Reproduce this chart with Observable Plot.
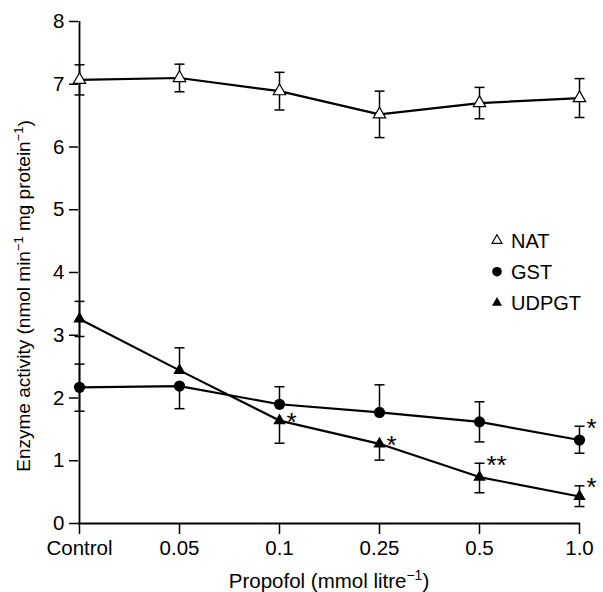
<!DOCTYPE html>
<html>
<head>
<meta charset="utf-8">
<script src="https://cdn.jsdelivr.net/npm/d3@7"></script>
<script src="https://cdn.jsdelivr.net/npm/@observablehq/plot@0.6"></script>
<style>
  html, body { margin: 0; padding: 0; background: white; }
  #chart { position: relative; width: 603px; height: 592px; }
  #legend { position: absolute; left: 0; top: 0; pointer-events: none; }
</style>
</head>
<body>
<div id="chart"></div>
<script>
// ---- data ----
const doses = ["Control", "0.05", "0.1", "0.25", "0.5", "1.0"];
const yTicks = [0, 1, 2, 3, 4, 5, 6, 7, 8];

const natMean = [7.07, 7.10, 6.89, 6.52, 6.70, 6.78];
const natUp   = [0.24, 0.22, 0.30, 0.37, 0.25, 0.31];
const natDown = [0.24, 0.22, 0.30, 0.37, 0.25, 0.31];

const gstMean = [2.17, 2.19, 1.90, 1.77, 1.62, 1.33];
const gstUp   = [0.37, 0,    0.28, 0.44, 0.32, 0.22];
const gstDown = [0.38, 0.36, 0,    0,    0.32, 0.21];

const udpgtMean = [3.26, 2.44, 1.64, 1.27, 0.74, 0.43];
const udpgtUp   = [0.28, 0.36, 0,    0,    0.22, 0.17];
const udpgtDown = [0.28, 0,    0.36, 0.26, 0.25, 0.16];

const seriesNames = ["NAT", "GST", "UDPGT"];

const starSeries = ["UDPGT", "UDPGT", "UDPGT", "GST", "UDPGT"];
const starDose   = ["0.1", "0.25", "0.5", "1.0", "1.0"];
const starLabel  = ["*", "*", "**", "*", "*"];

// axis titles: [text, superscript] pieces
const yTitle = [["Enzyme activity (nmol min", false], ["\u22121", true], [" mg protein", false], ["\u22121", true], [")", false]];
const xTitle = [["Propofol (mmol litre", false], ["\u22121", true], [")", false]];

// ---- tables ----
const seriesData = {
  NAT: [natMean, natUp, natDown],
  GST: [gstMean, gstUp, gstDown],
  UDPGT: [udpgtMean, udpgtUp, udpgtDown]
};
const rows = seriesNames.flatMap(s => doses.map((d, i) => ({
  series: s, dose: d,
  mean: seriesData[s][0][i], up: seriesData[s][1][i], down: seriesData[s][2][i]
})));
const stars = starSeries.map((s, i) => {
  const r = rows.find(o => o.series === s && o.dose === starDose[i]);
  return {series: s, dose: starDose[i], label: starLabel[i], y: r.mean + r.up};
});

const cap = {draw(ctx) { ctx.moveTo(-5, 0); ctx.lineTo(5, 0); }};
const FONT = "'Liberation Sans', Arial, sans-serif";

const plot = Plot.plot({
  width: 603,
  height: 592,
  marginLeft: 78,
  marginRight: 23,
  marginTop: 21,
  marginBottom: 69,
  style: {fontFamily: FONT, color: "black", background: "white"},
  x: {type: "point", domain: doses, padding: 0, label: null},
  y: {domain: [0, 8], label: null},
  marks: [
    Plot.axisY({ticks: yTicks, tickSize: 9, tickPadding: 5, fontSize: 20.5, strokeWidth: 1.5, label: null}),
    Plot.axisX({tickSize: 11, tickPadding: 6, fontSize: 20.5, strokeWidth: 1.5, label: null}),
    Plot.ruleY([0], {strokeWidth: 1.8}),
    Plot.ruleX([doses[0]], {y1: 0, y2: 8, strokeWidth: 1.8}),
    Plot.ruleX(rows, {x: "dose", y1: d => d.mean - d.down, y2: d => d.mean + d.up, strokeWidth: 1.5}),
    Plot.dot(rows.filter(d => d.up > 0), {x: "dose", y: d => d.mean + d.up, symbol: cap, fill: "none", stroke: "black", strokeWidth: 1.5}),
    Plot.dot(rows.filter(d => d.down > 0), {x: "dose", y: d => d.mean - d.down, symbol: cap, fill: "none", stroke: "black", strokeWidth: 1.5}),
    Plot.line(rows, {x: "dose", y: "mean", z: "series", stroke: "black", strokeWidth: 2.2}),
    Plot.dot(rows.filter(d => d.series === "NAT"), {x: "dose", y: "mean", symbol: "triangle", r: 4.6, fill: "white", stroke: "black", strokeWidth: 1.2}),
    Plot.dot(rows.filter(d => d.series === "GST"), {x: "dose", y: "mean", symbol: "circle", r: 5.6, fill: "black", stroke: "none"}),
    Plot.dot(rows.filter(d => d.series === "UDPGT"), {x: "dose", y: "mean", symbol: "triangle", r: 4.6, fill: "black", stroke: "none"}),
    Plot.text(stars, {x: "dose", y: "y", text: "label", textAnchor: "start", dx: 7, dy: 2, fontSize: 26})
  ]
});
const chart = document.getElementById("chart");
chart.appendChild(plot);

// axis titles with superscripts
const svg = d3.select(plot);
function addTitle(pieces, x, y, rotate, size) {
  const t = svg.append("text")
    .attr("transform", `translate(${x},${y})${rotate ? " rotate(-90)" : ""}`)
    .attr("text-anchor", "middle").attr("font-size", size).attr("font-family", FONT)
    .attr("fill", "black");
  pieces.forEach(([s, sup]) => {
    const ts = t.append("tspan").text(s);
    if (sup) ts.attr("font-size", size * 0.68).attr("dy", "-0.55em");
    else if (t.selectAll("tspan").size() > 1) ts.attr("dy", "0.39em");
  });
}
addTitle(yTitle, 30, 296, true, 19);
addTitle(xTitle, 329, 588, false, 20.5);

// legend overlay
const legendSyms = [d3.symbolTriangle, d3.symbolCircle, d3.symbolTriangle];
const legendFill = ["white", "black", "black"];
const lg = d3.select(chart).append("svg").attr("id", "legend").attr("width", 603).attr("height", 592)
  .style("font-family", FONT);
seriesNames.forEach((name, i) => {
  const cy = 240.5 + i * 31.2;
  lg.append("path").attr("d", d3.symbol(legendSyms[i], i === 1 ? 72 : 44)())
    .attr("transform", `translate(497,${cy})`)
    .attr("fill", legendFill[i]).attr("stroke", i === 0 ? "black" : "none").attr("stroke-width", 1.1);
  lg.append("text").attr("x", 511).attr("y", cy).attr("dy", "0.36em")
    .attr("font-size", 20).text(name);
});
</script>
</body>
</html>
